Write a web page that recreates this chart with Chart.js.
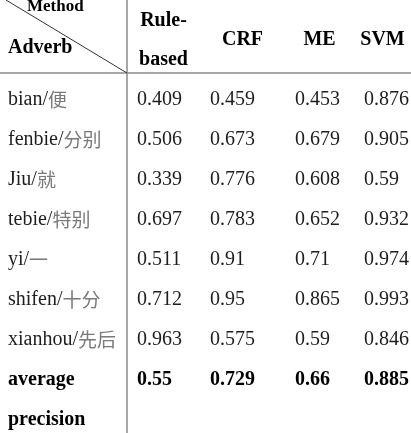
<!DOCTYPE html>
<html>
<head>
<meta charset="utf-8">
<script src="https://cdn.jsdelivr.net/npm/chart.js@4.4.0/dist/chart.umd.min.js"></script>
<style>
  html, body { margin: 0; padding: 0; background: #fff; }
  #wrap { width: 411px; height: 433px; position: relative; }
</style>
</head>
<body>
<div id="wrap"><canvas id="myChart"></canvas></div>
<script>
// table contents
const methods = ['Rule-based', 'CRF', 'ME', 'SVM']
const adverbs = ['bian', 'fenbie', 'Jiu', 'tebie', 'yi', 'shifen', 'xianhou']
const hanzi = ['便', '分别', '就', '特别', '一', '十分', '先后']
const ruleBased = [0.409, 0.506, 0.339, 0.697, 0.511, 0.712, 0.963]
const crf = [0.459, 0.673, 0.776, 0.783, 0.91, 0.95, 0.575]
const me = [0.453, 0.679, 0.608, 0.652, 0.71, 0.865, 0.59]
const svm = [0.876, 0.905, 0.59, 0.932, 0.974, 0.993, 0.846]
const average = [0.55, 0.729, 0.66, 0.885]

// layout (table units = pixels of the original page)
const W = 411, H = 433
const colEdges = [0, 127, 200, 285, 354, W]
const headerBottom = 73
const firstRow = 100
const rowStep = 40
const pad = 10

const serif = '"Liberation Serif", "Times New Roman", serif'
const series = [ruleBased, crf, me, svm]

// one point per cell, text kept on the point
const cells = []
series.forEach((vals, c) => {
    vals.forEach((v, r) => {
        cells.push({ x: colEdges[c + 1] + pad, y: firstRow + r * rowStep, text: String(v), bold: false })
    })
    cells.push({ x: colEdges[c + 1] + pad, y: firstRow + vals.length * rowStep, text: String(average[c]), bold: true })
})

const rowLabels = adverbs.map((a, r) => ({ x: 8, y: firstRow + r * rowStep, text: a + '/', han: hanzi[r], bold: false }))
rowLabels.push({ x: 8, y: firstRow + adverbs.length * rowStep, text: 'average', bold: true })
rowLabels.push({ x: 8, y: firstRow + (adverbs.length + 1) * rowStep, text: 'precision', bold: true })

const headers = methods.map((m, c) => ({ x: (colEdges[c + 1] + colEdges[c + 2]) / 2, y: 40, text: m }))

const tablePlugin = {
    id: 'tableText',
    beforeDatasetsDraw(chart) {
        const { ctx, scales: { x, y } } = chart
        ctx.save()
        ctx.strokeStyle = '#8a8a8a'
        ctx.lineWidth = 1.5
        ctx.beginPath()
        ctx.moveTo(x.getPixelForValue(0), y.getPixelForValue(headerBottom))
        ctx.lineTo(x.getPixelForValue(W), y.getPixelForValue(headerBottom))
        ctx.moveTo(x.getPixelForValue(colEdges[1]), y.getPixelForValue(0))
        ctx.lineTo(x.getPixelForValue(colEdges[1]), y.getPixelForValue(H))
        ctx.stroke()
        // diagonal of the corner cell
        ctx.strokeStyle = '#333'
        ctx.lineWidth = 1
        ctx.beginPath()
        ctx.moveTo(x.getPixelForValue(6), y.getPixelForValue(0))
        ctx.lineTo(x.getPixelForValue(colEdges[1]), y.getPixelForValue(headerBottom))
        ctx.stroke()
        ctx.restore()
    },
    afterDatasetsDraw(chart) {
        const { ctx, scales: { x, y } } = chart
        ctx.save()
        ctx.textBaseline = 'middle'

        // values and row labels
        chart.data.datasets.forEach((ds, i) => {
            const meta = chart.getDatasetMeta(i)
            meta.data.forEach((pt, j) => {
                const raw = ds.data[j]
                ctx.font = (raw.bold ? 'bold ' : '') + '20px ' + serif
                ctx.fillStyle = raw.bold ? '#000' : '#1e1e1e'
                ctx.textAlign = 'left'
                ctx.fillText(raw.text, pt.x, pt.y)
                if (raw.han) {
                    const w = ctx.measureText(raw.text).width
                    ctx.font = '19px "Noto Sans CJK SC"'
                    ctx.fillStyle = '#7a7a7a'
                    ctx.fillText(raw.han, pt.x + w, pt.y)
                }
            })
        })

        // header
        ctx.fillStyle = '#000'
        ctx.font = 'bold 20px ' + serif
        ctx.textAlign = 'center'
        headers.forEach(h => {
            const px = x.getPixelForValue(h.x)
            if (h.text === 'Rule-based') {
                ctx.fillText('Rule-', px, y.getPixelForValue(21))
                ctx.fillText('based', px, y.getPixelForValue(60))
            } else {
                ctx.fillText(h.text, px, y.getPixelForValue(h.y))
            }
        })
        ctx.textAlign = 'left'
        ctx.fillText('Adverb', x.getPixelForValue(8), y.getPixelForValue(48))
        ctx.textBaseline = 'alphabetic'
        ctx.font = 'bold 17px ' + serif
        ctx.fillText('Method', x.getPixelForValue(27), y.getPixelForValue(11))
        ctx.restore()
    }
}

new Chart(document.getElementById('myChart'), {
    type: 'scatter',
    data: {
        datasets: [
            { label: 'values', data: cells, pointRadius: 0 },
            { label: 'adverbs', data: rowLabels, pointRadius: 0 }
        ]
    },
    options: {
        responsive: true,
        maintainAspectRatio: false,
        animation: false,
        layout: { padding: 0 },
        plugins: { legend: { display: false }, tooltip: { enabled: false } },
        scales: {
            x: { type: 'linear', min: 0, max: W, display: false },
            y: { type: 'linear', min: 0, max: H, reverse: true, display: false }
        }
    },
    plugins: [tablePlugin]
})
</script>
</body>
</html>
